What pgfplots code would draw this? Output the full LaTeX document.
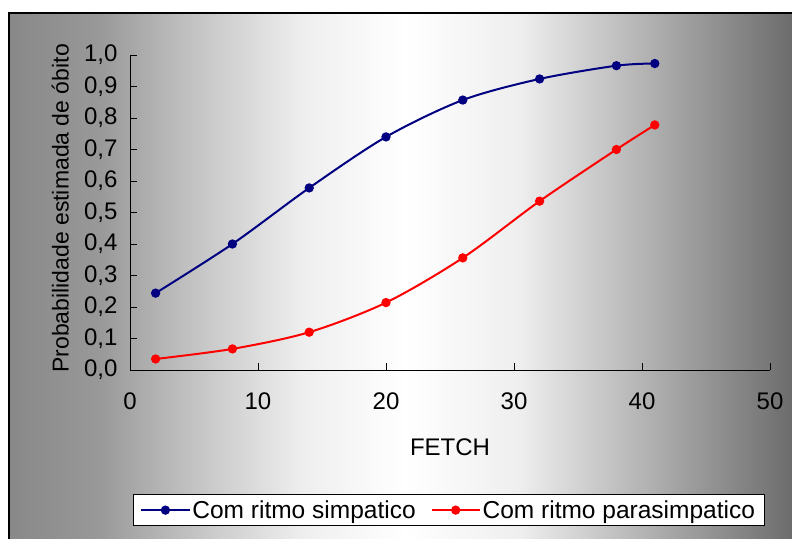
\documentclass[border=0pt]{standalone}
\usepackage{pgfplots}
\pgfplotsset{compat=1.18}
\usepackage{fontspec}
\setmainfont{Liberation Sans}
\definecolor{navy}{RGB}{0,0,128}
\definecolor{g1}{RGB}{136,136,136}
\definecolor{g2}{RGB}{153,153,153}
\definecolor{g3}{RGB}{198,198,198}
\definecolor{g4}{RGB}{238,238,238}
\definecolor{g5}{RGB}{255,255,255}
\definecolor{g6}{RGB}{238,238,238}
\definecolor{g7}{RGB}{176,176,176}
\definecolor{g8}{RGB}{108,108,108}
\definecolor{g9}{RGB}{90,90,90}
\begin{document}
\begin{tikzpicture}[x=1pt,y=1pt]
\useasboundingbox (0,0) rectangle (792,538);
\begin{scope}
\clip (0,0) rectangle (792,538);
\shade[left color=g1, right color=g2] (9,-20) rectangle (100.5,525);
\shade[left color=g2, right color=g3] (100,-20) rectangle (200.5,525);
\shade[left color=g3, right color=g4] (200,-20) rectangle (300.5,525);
\shade[left color=g4, right color=g5] (300,-20) rectangle (405.5,525);
\shade[left color=g5, right color=g6] (405,-20) rectangle (520.5,525);
\shade[left color=g6, right color=g7] (520,-20) rectangle (650.5,525);
\shade[left color=g7, right color=g8] (650,-20) rectangle (792.5,525);
\fill[g8] (792,-20) rectangle (850,525);
\draw[line width=1.5pt, black] (9,-20) -- (9,525) -- (850,525);
\end{scope}
\begin{axis}[
  at={(130pt,168pt)}, anchor=south west,
  scale only axis, width=640pt, height=315pt,
  xmin=0, xmax=50, ymin=0, ymax=1,
  axis lines=left, axis line style={-, black, line width=0.9pt},
  xtick={0,10,...,50}, ytick={0,0.1,...,1.0},
  tick align=inside, major tick length=7pt,
  tick style={black, line width=0.8pt},
  /pgf/number format/assume math mode=true,
  yticklabel={\pgfmathprintnumber[fixed,fixed zerofill,precision=1,use comma]{\tick}},
  xticklabel={\pgfmathprintnumber[fixed,precision=0]{\tick}},
  tick label style={font=\fontsize{24}{28}\selectfont},
  yticklabel style={xshift=-9pt},
  xticklabel style={yshift=-19pt},
  xlabel={FETCH},
  xlabel style={at={(axis description cs:0.5,-0.244)}, anchor=center, font=\fontsize{24}{28}\selectfont},
  ylabel={Probabilidade estimada de óbito},
  ylabel style={at={(axis description cs:-0.109,0.513)}, anchor=center, font=\fontsize{23}{28}\selectfont},
  legend columns=2,
  legend style={at={(axis description cs:0.0047,-0.394)}, anchor=north west,
    draw=black, line width=0.8pt, fill=white, font=\fontsize{24.5}{28}\selectfont,
    /tikz/every even column/.append style={column sep=13pt},
    inner xsep=7pt, inner ysep=4pt},
  legend image code/.code={\draw[mark repeat=2,mark phase=2,#1] plot coordinates {(0pt,0pt) (24pt,0pt) (48pt,0pt)};},
]
\addplot[navy, line width=2pt, smooth, mark=*, mark size=3.6pt] coordinates {
 (2,0.244) (8,0.400) (14,0.578) (20,0.740) (26,0.857) (32,0.924) (38,0.966) (41,0.973)};
\addlegendentry{Com ritmo simpatico}
\addplot[red, line width=2pt, smooth, mark=*, mark size=3.6pt] coordinates {
 (2,0.035) (8,0.067) (14,0.120) (20,0.214) (26,0.356) (32,0.536) (38,0.700) (41,0.778)};
\addlegendentry{Com ritmo parasimpatico}
\end{axis}
\end{tikzpicture}
\end{document}
